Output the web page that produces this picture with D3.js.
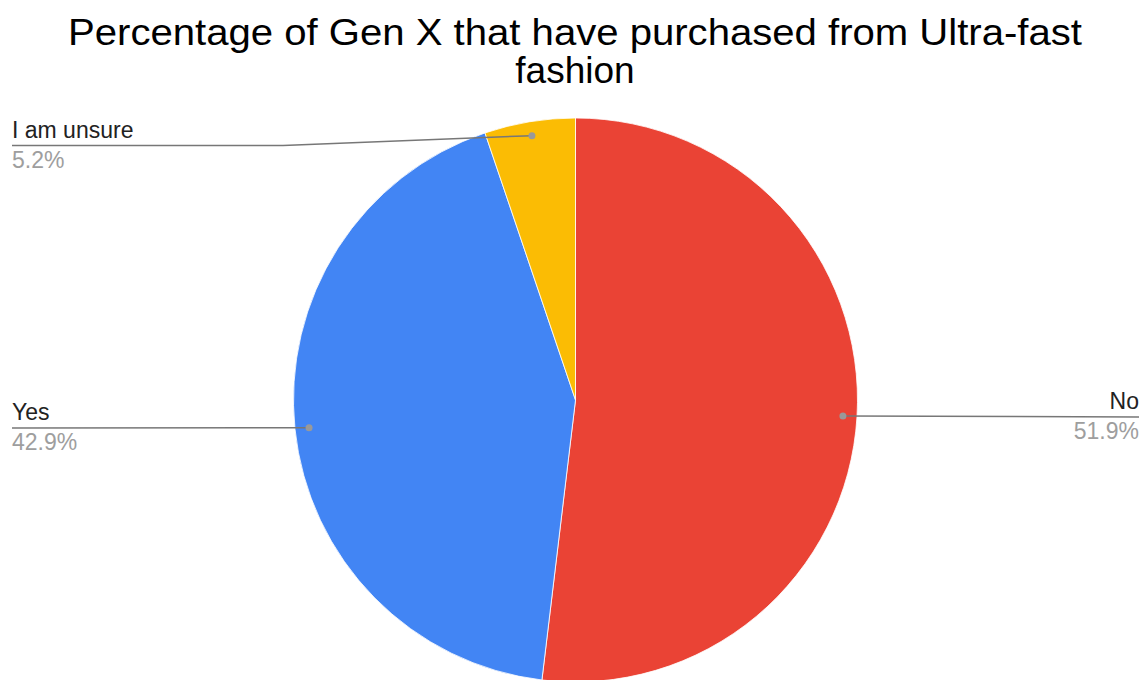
<!DOCTYPE html>
<html>
<head>
<meta charset="utf-8">
<script src="https://cdn.jsdelivr.net/npm/d3@7"></script>
<style>
  html, body { margin: 0; padding: 0; background: #fff; }
  svg { display: block; font-family: "Liberation Sans", Arial, sans-serif; }
</style>
</head>
<body>
<svg id="chart" width="1147" height="680"></svg>
<script>
// Survey answers and their shares (percent)
const categories = ["No", "Yes", "I am unsure"];
const values = [51.9, 42.9, 5.2];
const colors = ["#EA4335", "#4285F4", "#FBBC04"];
const titleLines = ["Percentage of Gen X that have purchased from Ultra-fast", "fashion"];

const width = 1147, height = 680;
const cx = 575.5, cy = 400, radius = 282;

const svg = d3.select("#chart");

// Title, two centred lines; the first is spread to the full title width
const title = svg.append("g").attr("font-size", 37).attr("fill", "#000");
title.selectAll("text")
  .data(titleLines)
  .join("text")
  .attr("text-anchor", "middle")
  .attr("x", 575)
  .attr("y", (d, i) => 45 + i * 38)
  .each(function (d, i) {
    if (i === 0) d3.select(this).attr("textLength", 1014).attr("lengthAdjust", "spacingAndGlyphs");
  })
  .text(d => d);

const data = categories.map((c, i) => ({ category: c, value: values[i], color: colors[i] }));

const pie = d3.pie().value(d => d.value).sort(null);
const arcs = pie(data);
const arc = d3.arc().innerRadius(0).outerRadius(radius);
const dotArc = d3.arc().innerRadius(radius * 0.95).outerRadius(radius * 0.95);

const g = svg.append("g").attr("transform", `translate(${cx},${cy})`);

g.selectAll("path.slice")
  .data(arcs)
  .join("path")
  .attr("class", "slice")
  .attr("d", arc)
  .attr("fill", d => d.data.color)
  .attr("stroke", "#fff")
  .attr("stroke-width", 0.8);

// Leader lines: label placement (line y in page coords, side, bend x)
const labelLayout = {
  "No": { side: "right", lineY: 417, bendX: null },
  "Yes": { side: "left", lineY: 428, bendX: null },
  "I am unsure": { side: "left", lineY: 145.5, bendX: 283 }
};

const leaders = svg.append("g");
arcs.forEach(a => {
  const [px, py] = dotArc.centroid(a);
  const dx = px + cx, dy = py + cy;
  const lay = labelLayout[a.data.category];
  const endX = lay.side === "left" ? 12 : 1139;
  let pts;
  if (lay.bendX !== null) {
    pts = [[dx, dy], [lay.bendX, lay.lineY], [endX, lay.lineY]];
  } else {
    pts = [[dx, dy], [endX, lay.lineY]];
  }
  leaders.append("path")
    .attr("d", d3.line()(pts))
    .attr("fill", "none")
    .attr("stroke", "#777")
    .attr("stroke-width", 1.5);
  leaders.append("circle")
    .attr("cx", dx).attr("cy", dy).attr("r", 3.5)
    .attr("fill", "#999");

  const anchor = lay.side === "left" ? "start" : "end";
  leaders.append("text")
    .attr("x", endX).attr("y", lay.lineY - 8)
    .attr("text-anchor", anchor)
    .attr("font-size", 23)
    .attr("fill", "#222")
    .text(a.data.category);
  leaders.append("text")
    .attr("x", endX).attr("y", lay.lineY + 22)
    .attr("text-anchor", anchor)
    .attr("font-size", 23)
    .attr("fill", "#9e9e9e")
    .text(a.data.value.toFixed(1) + "%");
});
</script>
</body>
</html>
